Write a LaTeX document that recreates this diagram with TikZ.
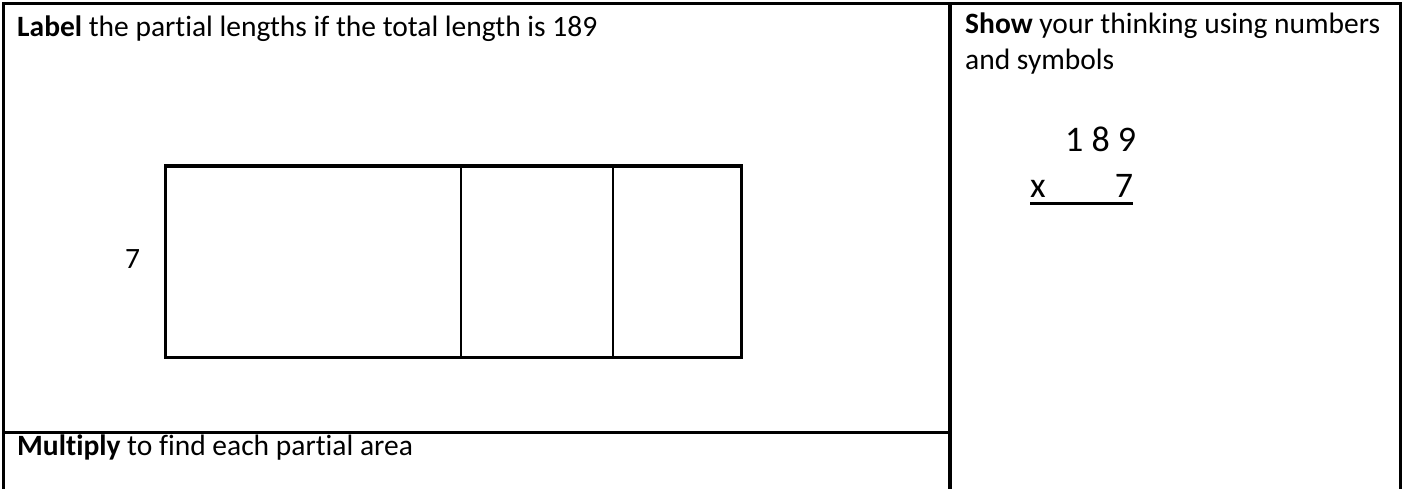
\documentclass[tikz,border=0pt]{standalone}
\usepackage{fontspec}
\setmainfont[Ligatures={NoCommon}]{Carlito}
\begin{document}
\begin{tikzpicture}[x=1pt,y=-1pt,
  border/.style={line width=3.2pt},
  boxline/.style={line width=3.2pt},
  divline/.style={line width=2pt},
  txt/.style={anchor=base west,inner sep=0pt,font=\fontsize{29.5}{35}\selectfont},
  big/.style={anchor=base west,inner sep=0pt,font=\fontsize{36}{42}\selectfont}]
\useasboundingbox (0,0) rectangle (1404,489);
% table lines
\coordinate (tl) at (3.5,3.5);
\coordinate (tr) at (1400.5,3.5);
\coordinate (bl) at (3.5,489);
\coordinate (br) at (1400.5,489);
\coordinate (mt) at (950,3.5);
\coordinate (mb) at (950,489);
\coordinate (hl) at (3.5,432.5);
\coordinate (hr) at (950,432.5);
\draw[border] (bl) -- (tl) -- (tr) -- (br);
\draw[border] (mt) -- (mb);
\draw[border] (hl) -- (hr);
% rectangle
\node[draw,boxline,minimum width=576pt,minimum height=191.5pt,inner sep=0pt,anchor=north west] (rect) at (164,164.5) {};
\coordinate (d1t) at (461,164.5);
\coordinate (d1b) at (461,355.5);
\coordinate (d2t) at (613,164.5);
\coordinate (d2b) at (613,355.5);
\draw[divline] (d1t) -- (d1b);
\draw[divline] (d2t) -- (d2b);
% texts
\node[txt] (label) at (17,37) {\textbf{Label} the partial lengths if the total length is 189};
\node[txt] (seven) at (125,268) {7};
\node[txt] (mult) at (17,455) {\textbf{Multiply} to find each partial area};
\node[txt] (show1) at (965,34) {\textbf{Show} your thinking using numbers};
\node[txt] (show2) at (965,70) {and symbols};
\node[big] (num) at (1065,152) {1 8 9};
\node[big] (mul) at (1030,197) {x\hspace{69pt}7};
\draw[line width=3.5pt] ([yshift=-6.5pt]mul.base west) -- ([yshift=-6.5pt]mul.base east);
\end{tikzpicture}
\end{document}
